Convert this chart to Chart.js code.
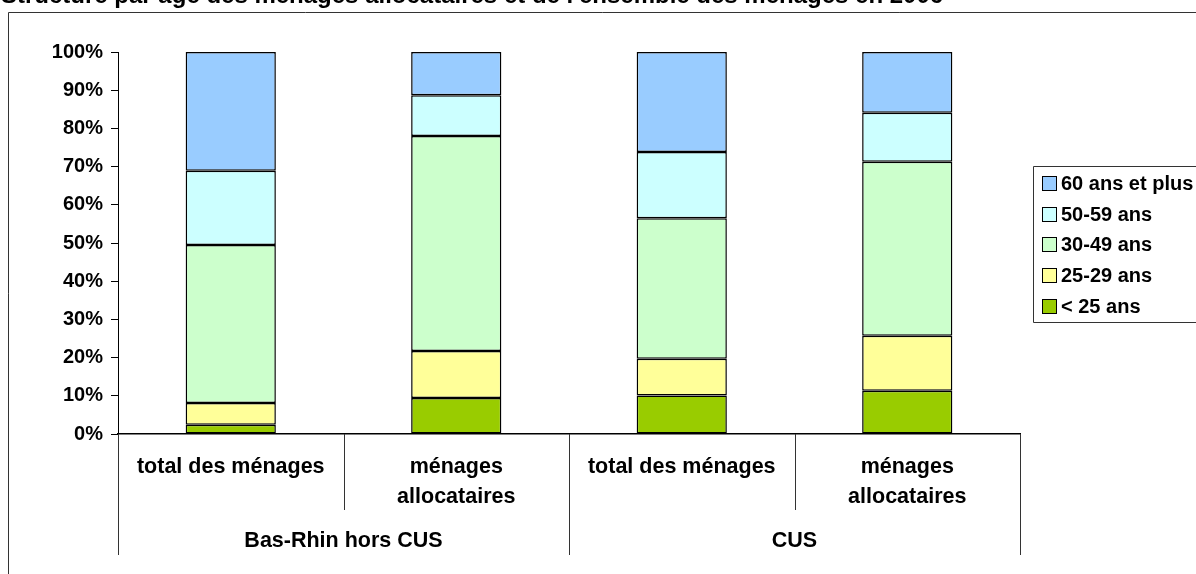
<!DOCTYPE html>
<html>
<head>
<meta charset="utf-8">
<script src="https://cdn.jsdelivr.net/npm/chart.js@4.4.1/dist/chart.umd.min.js"></script>
<style>
  html, body { margin: 0; padding: 0; background: #ffffff; }
  #wrap { width: 1196px; height: 574px; position: relative; }
</style>
</head>
<body>
<div id="wrap"><canvas id="c" width="1196" height="574"></canvas></div>
<script>
const titleText = "Structure par âge des ménages allocataires et de l'ensemble des ménages en 2006";
const categories = ['total des ménages', ['ménages', 'allocataires'], 'total des ménages', ['ménages', 'allocataires']];
const groups = ['Bas-Rhin hors CUS', 'CUS'];
const yTicks = [0, 10, 20, 30, 40, 50, 60, 70, 80, 90, 100];

const seriesNames = ['< 25 ans', '25-29 ans', '30-49 ans', '50-59 ans', '60 ans et plus'];
const under25 = [2.4, 9.4, 10.1, 11.3];
const age25_29 = [5.7, 12.3, 9.6, 14.4];
const age30_49 = [41.4, 56.3, 36.8, 45.6];
const age50_59 = [19.4, 10.7, 17.3, 12.8];
const age60plus = [31.1, 11.3, 26.2, 15.9];
const seriesColors = ['#99CC00', '#FFFF99', '#CCFFCC', '#CCFFFF', '#99CCFF'];

const FONT = '"Liberation Sans", Arial, sans-serif';

const seriesData = [under25, age25_29, age30_49, age50_59, age60plus];
const datasets = seriesData.map((d, i) => ({
  label: seriesNames[i],
  data: d,
  backgroundColor: seriesColors[i],
  borderColor: '#000000',
  borderWidth: 1.5,
  borderSkipped: false,
  categoryPercentage: 1.0,
  barPercentage: 0.4
}));

const decorPlugin = {
  id: 'decor',
  afterDraw(chart) {
    const ctx = chart.ctx;
    const xs = chart.scales.x;
    const area = chart.chartArea;
    const n = categories.length;
    const step = (area.right - area.left) / n;
    ctx.save();

    // title (partially clipped at top)
    ctx.fillStyle = '#000';
    ctx.font = 'bold 24px ' + FONT;
    ctx.textAlign = 'left';
    ctx.textBaseline = 'alphabetic';
    ctx.fillText(titleText, 1, 3);

    // outer frame
    ctx.strokeStyle = '#333';
    ctx.lineWidth = 1;
    ctx.beginPath();
    ctx.moveTo(8.5, 574);
    ctx.lineTo(8.5, 12.5);
    ctx.lineTo(1196, 12.5);
    ctx.stroke();

    // category separators
    ctx.strokeStyle = '#333';
    for (let i = 0; i <= n; i++) {
      const x = Math.round(area.left + i * step) + 0.5;
      const long = (i % 2 === 0);
      ctx.beginPath();
      ctx.moveTo(x, area.bottom);
      ctx.lineTo(x, long ? 555 : 510);
      ctx.stroke();
    }

    // category labels
    ctx.fillStyle = '#000';
    ctx.font = 'bold 21.5px ' + FONT;
    ctx.textAlign = 'center';
    ctx.textBaseline = 'middle';
    categories.forEach((c, i) => {
      const cx = xs.getPixelForValue(i);
      const lines = Array.isArray(c) ? c : [c];
      lines.forEach((t, j) => ctx.fillText(t, cx, 467 + j * 30));
    });
    // group labels
    groups.forEach((g, k) => {
      const cx = area.left + (k * 2 + 1) * step;
      ctx.fillText(g, cx, 541);
    });

    // legend
    const lx = 1033.5, ly = 166.5;
    ctx.strokeStyle = '#333';
    ctx.beginPath();
    ctx.moveTo(1196, ly);
    ctx.lineTo(lx, ly);
    ctx.lineTo(lx, 322.5);
    ctx.lineTo(1196, 322.5);
    ctx.stroke();
    ctx.textAlign = 'left';
    ctx.font = 'bold 20px ' + FONT;
    const dsets = chart.data.datasets;
    for (let k = 0; k < dsets.length; k++) {
      const ds = dsets[dsets.length - 1 - k];
      const cy = 183.5 + k * 30.7;
      ctx.fillStyle = ds.backgroundColor;
      ctx.fillRect(1042, Math.round(cy - 7.5), 15, 15);
      ctx.strokeStyle = '#000';
      ctx.strokeRect(1042.5, Math.round(cy - 7.5) + 0.5, 14, 14);
      ctx.fillStyle = '#000';
      ctx.fillText(ds.label, 1061, cy + 1);
    }
    ctx.restore();
  }
};

new Chart(document.getElementById('c'), {
  type: 'bar',
  data: { labels: categories.map(c => Array.isArray(c) ? c.join(' ') : c), datasets },
  options: {
    responsive: false,
    animation: false,
    layout: { padding: { top: 52, right: 176, left: 0, bottom: 0 } },
    plugins: { legend: { display: false }, tooltip: { enabled: false }, title: { display: false } },
    scales: {
      x: {
        stacked: true,
        grid: { display: false },
        border: { display: true, color: '#000', width: 1.5 },
        ticks: { display: false },
        afterFit(s) { s.height = 140; }
      },
      y: {
        stacked: true,
        min: 0, max: 100,
        afterBuildTicks(s) { s.ticks = yTicks.map(v => ({ value: v })); },
        grid: { display: true, drawOnChartArea: false, drawTicks: true, tickLength: 7, color: '#000' },
        border: { display: true, color: '#000', width: 1 },
        ticks: {
          color: '#000',
          padding: 8,
          font: { family: FONT, size: 20, weight: 'bold' },
          callback: v => v + '%'
        },
        afterFit(s) { s.width = 118; }
      }
    }
  },
  plugins: [decorPlugin]
});
</script>
</body>
</html>
